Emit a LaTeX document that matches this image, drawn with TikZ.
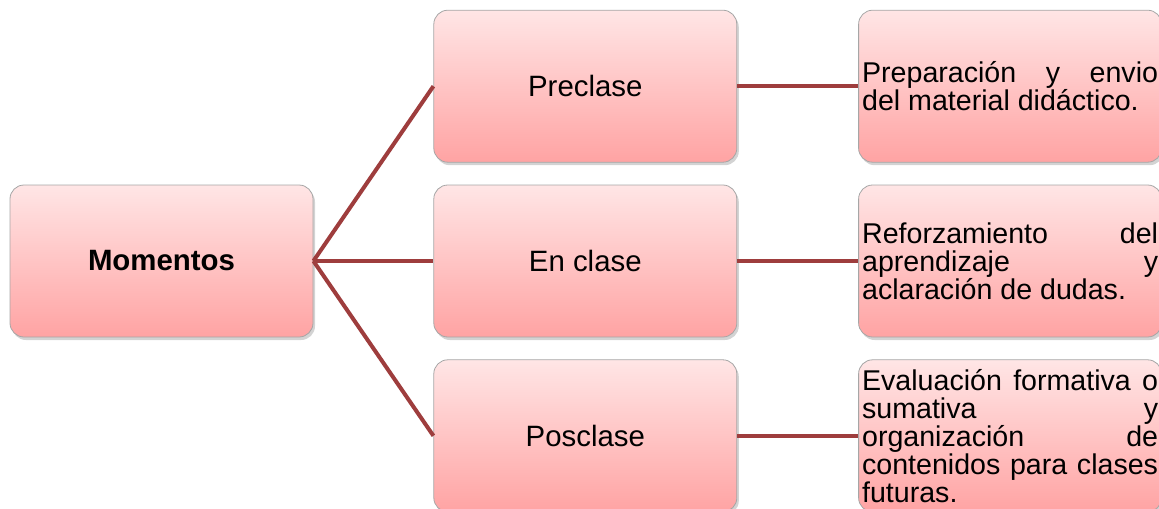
\documentclass[tikz,border=0pt]{standalone}
\usepackage{fontspec}
\setmainfont{Liberation Sans}
\usepackage{tikz}
\usetikzlibrary{positioning, shadows}
\definecolor{linkred}{HTML}{9E3D3D}
\tikzstyle{block} = [rectangle, draw=gray!70, line width=0.4pt, rounded corners=7pt,
  top color=red!10, bottom color=red!36, drop shadow={opacity=0.35, shadow xshift=1pt, shadow yshift=-1.5pt},
  minimum width=151.5pt, minimum height=76pt, text centered,
  font=\fontsize{14.7}{14}\selectfont]
\tikzstyle{note} = [block, text width=148pt, align=justify, inner xsep=1.5pt, inner ysep=2pt,
  font=\fontsize{14.3}{14}\selectfont]
\tikzstyle{link} = [linkred, line width=2pt]

\begin{document}
\begin{tikzpicture}[x=0.5pt, y=-0.5pt]
    \useasboundingbox (0,0) rectangle (1159,508);
    \node[block] (mom) at (161.5,261) {\textbf{Momentos}};
    \node[block, right=60pt of mom] (en) {En clase};
    \node[block, above=11pt of en] (pre) {Preclase};
    \node[block, below=11pt of en] (pos) {Posclase};
    \node[note, right=60.5pt of pre] (prenote) {Preparación y envio\linebreak del material didáctico.};
    \node[note, right=60.5pt of en] (ennote) {Reforzamiento del\linebreak aprendizaje y\linebreak aclaración de dudas.};
    \node[note, right=60.5pt of pos] (posnote) {Evaluación formativa o\linebreak sumativa y\linebreak
      organización de\linebreak contenidos para clases\linebreak futuras.};
    \foreach \m in {pre, en, pos} {
      \draw[link] (mom.east) -- (\m.west);
      \draw[link] (\m.east) -- (\m note.west);
    }
  \end{tikzpicture}
\end{document}
